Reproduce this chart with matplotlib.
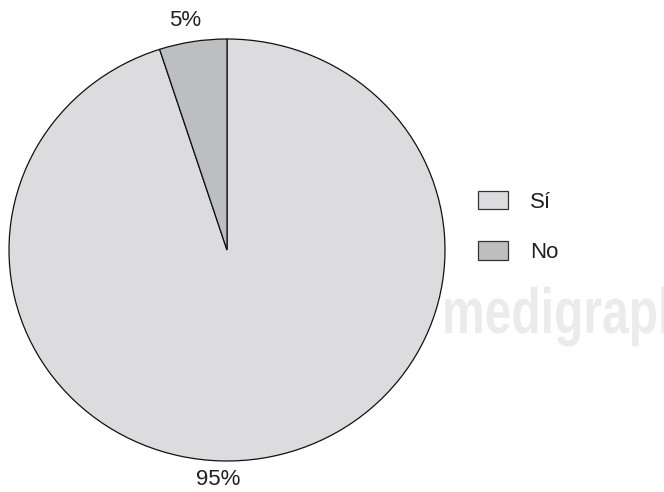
import numpy as np
import matplotlib
matplotlib.use('Agg')
import matplotlib.pyplot as plt
from matplotlib.textpath import TextPath
from matplotlib.patches import PathPatch
from matplotlib.font_manager import FontProperties
from matplotlib.transforms import Affine2D

categories = ['Sí', 'No']
values = [95, 5]
pct_labels = ['95%', '5%']
colors = ['#dcdcde', '#bdbec0']

plt.rcParams['font.family'] = ['Liberation Sans', 'DejaVu Sans']

W, H = 664, 492
fig = plt.figure(figsize=(W / 100, H / 100), dpi=100)

# watermark, behind everything
tp = TextPath((0, 0), 'medigraphic', size=64,
              prop=FontProperties(family='Liberation Sans', weight='bold'))
tr = Affine2D().scale(0.75, 1).translate(442, H - 333) + Affine2D().scale(1 / W, 1 / H) + fig.transFigure
fig.patches.append(PathPatch(tp, transform=tr, facecolor='#ebebeb', edgecolor='none', zorder=0))

# pie box: centre (227, 250), rx 218, ry 211 (pixels)
ax = fig.add_axes([9 / W, 31 / H, 436 / W, 422 / H])
ax.patch.set_visible(False)
start = 90 + 360 * values[1] / sum(values)
wedges, _ = ax.pie(values, colors=colors, startangle=start, counterclock=True,
                   wedgeprops=dict(edgecolor='#111111', linewidth=0.9))
ax.set_aspect('auto')
ax.set_xlim(-1, 1)
ax.set_ylim(-1, 1)

# percentage labels
label_pos = [(-0.04, -1.09), (-0.19, 1.09)]
for txt, (x, y) in zip(pct_labels, label_pos):
    ax.text(x, y, txt, ha='center', va='center', fontsize=16, color='#231f20', clip_on=False)

leg = fig.legend(wedges, categories, loc='center left',
                 bbox_to_anchor=(478 / W, (H - 227) / H),
                 frameon=False, fontsize=16, handlelength=1.35, handleheight=0.9,
                 handletextpad=1.0, labelspacing=1.3, borderpad=0, borderaxespad=0)
for t in leg.get_texts():
    t.set_color('#231f20')
for p in leg.get_patches():
    p.set_edgecolor('#333333')
    p.set_linewidth(0.9)

fig.savefig('out.png', dpi=100)
